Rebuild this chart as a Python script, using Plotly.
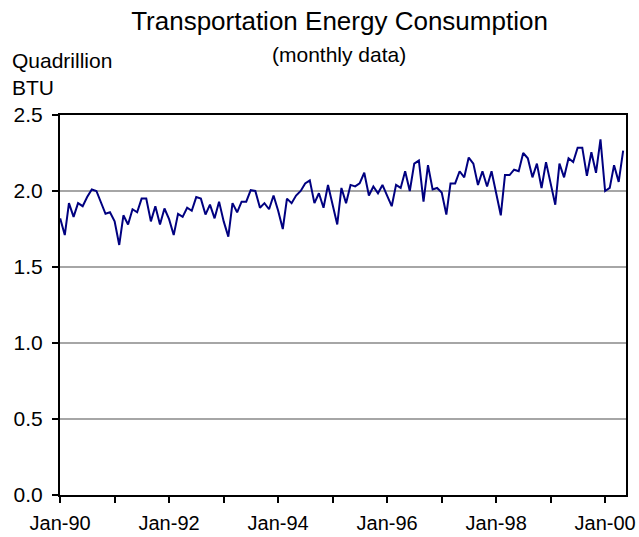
import pandas as pd
import plotly.graph_objects as go

# Monthly transportation energy consumption, Jan-1990 through May-2000 (quadrillion BTU)
start_month = "1990-01-01"
consumption = [
    1.82, 1.71, 1.92, 1.83, 1.92, 1.90, 1.96, 2.01, 2.00, 1.92, 1.85, 1.86,   # 1990
    1.80, 1.645, 1.84, 1.78, 1.88, 1.86, 1.95, 1.95, 1.80, 1.90, 1.78, 1.885, # 1991
    1.815, 1.71, 1.85, 1.83, 1.89, 1.87, 1.96, 1.95, 1.845, 1.91, 1.82, 1.93, # 1992
    1.80, 1.70, 1.92, 1.86, 1.93, 1.93, 2.005, 2.00, 1.89, 1.92, 1.88, 1.97,  # 1993
    1.87, 1.75, 1.95, 1.92, 1.97, 2.00, 2.05, 2.07, 1.92, 1.985, 1.89, 2.04,  # 1994
    1.91, 1.78, 2.02, 1.92, 2.04, 2.03, 2.05, 2.12, 1.97, 2.03, 1.985, 2.04,  # 1995
    1.97, 1.90, 2.04, 2.02, 2.13, 2.00, 2.18, 2.20, 1.93, 2.17, 2.01, 2.02,   # 1996
    1.99, 1.845, 2.05, 2.05, 2.13, 2.09, 2.22, 2.18, 2.04, 2.13, 2.03, 2.13,  # 1997
    1.985, 1.84, 2.105, 2.105, 2.14, 2.13, 2.25, 2.215, 2.09, 2.18, 2.02, 2.19, # 1998
    2.05, 1.91, 2.18, 2.09, 2.215, 2.19, 2.285, 2.285, 2.10, 2.255, 2.12, 2.34, # 1999
    2.00, 2.02, 2.17, 2.06, 2.265,                                             # 2000
]
months = pd.date_range(start_month, periods=len(consumption), freq="MS")

x_ticks = ["1990-01-01", "1992-01-01", "1994-01-01",
           "1996-01-01", "1998-01-01", "2000-01-01"]
x_tick_text = ["Jan-90", "Jan-92", "Jan-94", "Jan-96", "Jan-98", "Jan-00"]
x_minor_ticks = ["1991-01-01", "1993-01-01", "1995-01-01",
                 "1997-01-01", "1999-01-01"]
y_ticks = [0.0, 0.5, 1.0, 1.5, 2.0, 2.5]
y_tick_text = ["0.0", "0.5", "1.0", "1.5", "2.0", "2.5"]

FONT = "Liberation Sans, Arial, sans-serif"
W, H = 639, 537
L, R, T, B = 60, 13, 115, 42
PW, PH = W - L - R, H - T - B
LABEL_SIZE = 21


def px_x(x):
    return (x - L) / PW


def px_y(y):
    return (H - B - y) / PH


fig = go.Figure()
fig.add_trace(go.Scatter(
    x=months, y=consumption, mode="lines",
    line=dict(color="#000080", width=2),
    hoverinfo="x+y",
))

fig.update_layout(
    width=W, height=H,
    margin=dict(l=L, r=R, t=T, b=B, autoexpand=False),
    paper_bgcolor="white", plot_bgcolor="white",
    showlegend=False,
    font=dict(family=FONT, color="black", size=LABEL_SIZE),
    title=dict(
        text="Transportation Energy Consumption",
        font=dict(family=FONT, size=26, color="black"),
        x=339.5 / W, xanchor="center", xref="container",
        y=1 - 21 / H, yanchor="middle", yref="container",
    ),
)

fig.update_xaxes(
    type="date",
    automargin=False,
    range=["1989-12-31", "2000-05-20"],
    tickmode="array",
    tickvals=pd.to_datetime(x_ticks),
    ticktext=x_tick_text,
    ticks="outside", ticklen=6, tickwidth=1.5, tickcolor="black",
    minor=dict(
        tickmode="array",
        tickvals=pd.to_datetime(x_minor_ticks),
        ticks="outside", ticklen=6, tickwidth=1.5, tickcolor="black",
    ),
    ticklabelstandoff=3,
    showline=True, linecolor="black", linewidth=2, mirror=True,
    showgrid=False, zeroline=False,
    tickfont=dict(family=FONT, size=20, color="black"),
)

fig.update_yaxes(
    automargin=False,
    range=[0, 2.5],
    tickmode="array", tickvals=y_ticks, ticktext=y_tick_text,
    ticks="outside", ticklen=6, tickwidth=1.5, tickcolor="black",
    ticklabelstandoff=5,
    showline=True, linecolor="black", linewidth=2, mirror=True,
    showgrid=True, gridcolor="#a6a6a6", gridwidth=1.5,
    zeroline=False,
    tickfont=dict(family=FONT, size=LABEL_SIZE, color="black"),
)

fig.add_annotation(
    text="(monthly data)", xref="paper", yref="paper",
    x=px_x(339), y=px_y(54), xanchor="center", yanchor="middle",
    showarrow=False, font=dict(family=FONT, size=LABEL_SIZE, color="black"),
)
fig.add_annotation(
    text="Quadrillion", xref="paper", yref="paper",
    x=px_x(10), y=px_y(60), xanchor="left", yanchor="middle",
    showarrow=False, font=dict(family=FONT, size=LABEL_SIZE, color="black"),
)
fig.add_annotation(
    text="BTU", xref="paper", yref="paper",
    x=px_x(10), y=px_y(88), xanchor="left", yanchor="middle",
    showarrow=False, font=dict(family=FONT, size=LABEL_SIZE, color="black"),
)

fig.write_html("out.html")
